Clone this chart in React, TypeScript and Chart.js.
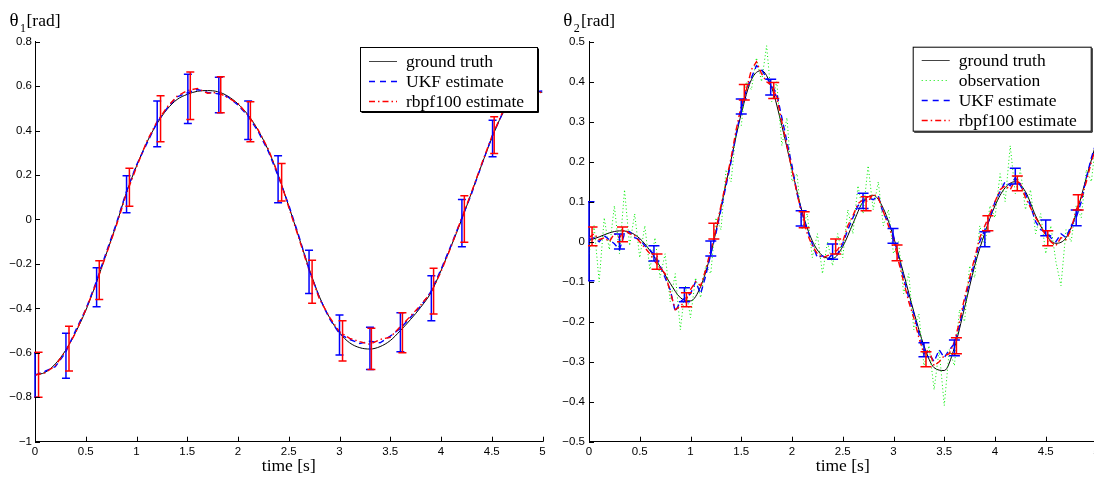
import React, { useEffect, useRef } from 'react';
import { Chart, registerables } from 'chart.js';

Chart.register(...registerables);

// ---------- sample times ----------
const t10: number[] = Array.from({ length: 51 }, (_, i) => Math.round(i * 10) / 100);
const t05: number[] = Array.from({ length: 101 }, (_, i) => Math.round(i * 5) / 100);

// ---------- left panel: theta1 ----------
const theta1Truth = [
  -0.700, -0.688, -0.650, -0.590, -0.508, -0.410, -0.290, -0.158, -0.025, 0.120,
  0.240, 0.345, 0.430, 0.495, 0.540, 0.563, 0.577, 0.580, 0.575, 0.555,
  0.520, 0.470, 0.400, 0.310, 0.195, 0.060, -0.080, -0.220, -0.345, -0.440,
  -0.510, -0.555, -0.577, -0.583, -0.572, -0.545, -0.500, -0.450, -0.395, -0.330,
  -0.230, -0.120, -0.005, 0.120, 0.245, 0.365, 0.470, 0.535, 0.565, 0.578, 0.572,
];
const theta1Ukf = [
  -0.700, -0.683, -0.662, -0.600, -0.500, -0.405, -0.285, -0.150, -0.020, 0.125,
  0.245, 0.340, 0.435, 0.500, 0.552, 0.570, 0.585, 0.572, 0.566, 0.552,
  0.515, 0.465, 0.395, 0.305, 0.190, 0.065, -0.075, -0.225, -0.350, -0.445,
  -0.515, -0.540, -0.558, -0.548, -0.555, -0.525, -0.490, -0.440, -0.390, -0.325,
  -0.225, -0.115, 0.000, 0.115, 0.245, 0.370, 0.472, 0.538, 0.566, 0.575, 0.578,
];
const theta1Rbpf = [
  -0.700, -0.690, -0.658, -0.592, -0.510, -0.405, -0.292, -0.160, -0.030, 0.115,
  0.235, 0.350, 0.438, 0.505, 0.555, 0.580, 0.590, 0.568, 0.572, 0.548,
  0.522, 0.468, 0.402, 0.315, 0.198, 0.055, -0.085, -0.228, -0.355, -0.438,
  -0.505, -0.535, -0.550, -0.562, -0.540, -0.530, -0.482, -0.435, -0.385, -0.330,
  -0.235, -0.122, 0.002, 0.122, 0.250, 0.372, 0.476, 0.540, 0.570, 0.580, 0.570,
];
const theta1UkfBarT = [0.0, 0.305, 0.607, 0.902, 1.204, 1.506, 1.811, 2.1, 2.395, 2.7, 3.0, 3.3, 3.6, 3.905, 4.206, 4.508, 4.797];
const theta1UkfBarLo = [-0.80, -0.715, -0.393, 0.03, 0.327, 0.432, 0.48, 0.36, 0.075, -0.333, -0.61, -0.675, -0.595, -0.456, -0.123, 0.282, 0.489];
const theta1UkfBarHi = [-0.60, -0.512, -0.217, 0.197, 0.533, 0.653, 0.64, 0.533, 0.287, -0.138, -0.43, -0.485, -0.42, -0.253, 0.09, 0.447, 0.67];
const theta1RbpfBarT = [0.035, 0.335, 0.633, 0.93, 1.237, 1.53, 1.83, 2.122, 2.43, 2.73, 3.03, 3.314, 3.62, 3.927, 4.23, 4.524, 4.83];
const theta1RbpfBarLo = [-0.80, -0.682, -0.36, 0.06, 0.35, 0.45, 0.48, 0.35, 0.083, -0.377, -0.637, -0.675, -0.60, -0.425, -0.103, 0.297, 0.51];
const theta1RbpfBarHi = [-0.598, -0.48, -0.186, 0.23, 0.557, 0.664, 0.642, 0.53, 0.252, -0.183, -0.456, -0.49, -0.42, -0.22, 0.107, 0.462, 0.70];

// ---------- right panel: theta2 ----------
const theta2Truth = [
  0.003, 0.012, 0.022, 0.027, 0.024, 0.008, -0.022, -0.062, -0.104, -0.140,
  -0.148, -0.112, -0.030, 0.085, 0.205, 0.320, 0.405, 0.428, 0.385, 0.290,
  0.180, 0.075, 0.002, -0.035, -0.042, -0.012, 0.045, 0.100, 0.116, 0.083,
  0.012, -0.080, -0.175, -0.260, -0.315, -0.322, -0.265, -0.165, -0.060, 0.022,
  0.090, 0.135, 0.150, 0.125, 0.065, 0.018, -0.004, 0.010, 0.070, 0.160, 0.250,
];
const theta2Obs = [
  -0.03, 0.04, -0.10, 0.06, -0.02, 0.09, -0.03, 0.13, -0.01, 0.07,
  -0.04, 0.04, -0.07, 0.01, -0.09, -0.03, -0.15, -0.08, -0.22, -0.11,
  -0.19, -0.09, -0.14, -0.06, -0.08, 0.06, 0.03, 0.18, 0.15, 0.28,
  0.29, 0.40, 0.38, 0.46, 0.40, 0.49, 0.35, 0.40, 0.24, 0.31,
  0.15, 0.17, 0.03, 0.07, -0.04, 0.02, -0.08, 0.00, -0.06, 0.02,
  -0.04, 0.08, 0.02, 0.14, 0.07, 0.19, 0.08, 0.15, 0.04, 0.08,
  -0.03, 0.00, -0.13, -0.08, -0.22, -0.18, -0.31, -0.26, -0.37, -0.27,
  -0.41, -0.27, -0.31, -0.17, -0.20, -0.06, -0.09, 0.04, -0.01, 0.09,
  0.06, 0.17, 0.10, 0.24, 0.12, 0.18, 0.08, 0.13, 0.02, 0.07,
  -0.03, 0.04, -0.05, -0.11, 0.03, 0.00, 0.09, 0.06, 0.18, 0.15, 0.27,
];
const theta2Ukf = [
  0.005, 0.010, 0.000, 0.015, 0.005, -0.005, -0.020, 0.020, 0.025, 0.010,
  0.005, -0.010, -0.020, -0.035, -0.060, -0.090, -0.120, -0.175, -0.150, -0.140,
  -0.130, -0.100, -0.130, -0.085, -0.030, 0.020, 0.080, 0.140, 0.200, 0.270,
  0.330, 0.380, 0.410, 0.440, 0.430, 0.410, 0.390, 0.370, 0.310, 0.250,
  0.190, 0.120, 0.070, 0.030, -0.005, -0.040, -0.035, -0.045, -0.030, -0.030,
  -0.005, 0.030, 0.060, 0.090, 0.100, 0.110, 0.105, 0.115, 0.070, 0.050,
  0.015, -0.040, -0.090, -0.140, -0.180, -0.230, -0.270, -0.280, -0.300, -0.270,
  -0.290, -0.270, -0.255, -0.210, -0.150, -0.100, -0.050, 0.000, 0.030, 0.060,
  0.100, 0.125, 0.150, 0.140, 0.160, 0.140, 0.120, 0.090, 0.050, 0.030,
  0.025, 0.010, 0.000, 0.020, 0.010, 0.040, 0.060, 0.100, 0.160, 0.210, 0.250,
];
const theta2Rbpf = [
  0.010, 0.020, 0.005, 0.010, 0.000, 0.020, 0.010, 0.030, 0.020, 0.015,
  0.000, -0.015, -0.030, -0.050, -0.065, -0.080, -0.125, -0.170, -0.160, -0.150,
  -0.120, -0.100, -0.110, -0.070, -0.020, 0.030, 0.090, 0.150, 0.210, 0.280,
  0.340, 0.380, 0.430, 0.450, 0.420, 0.400, 0.390, 0.360, 0.300, 0.240,
  0.180, 0.120, 0.065, 0.020, -0.010, -0.030, -0.040, -0.035, -0.030, -0.020,
  0.000, 0.040, 0.065, 0.095, 0.105, 0.100, 0.120, 0.110, 0.075, 0.040,
  0.005, -0.050, -0.100, -0.150, -0.190, -0.240, -0.280, -0.270, -0.310, -0.300,
  -0.285, -0.280, -0.250, -0.200, -0.140, -0.090, -0.040, 0.010, 0.040, 0.070,
  0.100, 0.130, 0.140, 0.130, 0.155, 0.145, 0.110, 0.085, 0.060, 0.040,
  0.015, 0.000, -0.010, 0.010, 0.005, 0.030, 0.080, 0.110, 0.150, 0.200, 0.240,
];
const theta2UkfBarT = [0.0, 0.30, 0.64, 0.94, 1.20, 1.50, 1.79, 2.09, 2.40, 2.70, 2.995, 3.30, 3.60, 3.90, 4.20, 4.50, 4.80];
const theta2UkfBarLo = [-0.0975, -0.018, -0.048, -0.15, -0.036, 0.319, 0.367, 0.039, -0.044, 0.083, -0.004, -0.2875, -0.285, -0.0125, 0.144, 0.015, 0.04];
const theta2UkfBarHi = [0.10, 0.019, -0.01, -0.115, 0.002, 0.357, 0.406, 0.0775, -0.006, 0.121, 0.033, -0.2525, -0.246, 0.025, 0.1835, 0.054, 0.079];
const theta2RbpfBarT = [0.03, 0.33, 0.67, 0.96, 1.23, 1.53, 1.82, 2.12, 2.43, 2.73, 3.035, 3.32, 3.62, 3.93, 4.22, 4.52, 4.82];
const theta2RbpfBarLo = [-0.01, 0.0, -0.069, -0.1625, 0.007, 0.354, 0.358, 0.035, -0.031, 0.0775, -0.0475, -0.3125, -0.28, 0.0275, 0.1275, -0.01, 0.079];
const theta2RbpfBarHi = [0.037, 0.037, -0.031, -0.1275, 0.046, 0.393, 0.398, 0.075, 0.007, 0.1125, -0.008, -0.275, -0.24, 0.065, 0.164, 0.0275, 0.1175];

// ---------- text ----------
const xTitle = 'time [s]';
const legendLabelsLeft = ['ground truth', 'UKF estimate', 'rbpf100 estimate'];
const legendLabelsRight = ['ground truth', 'observation', 'UKF estimate', 'rbpf100 estimate'];

const SANS = '"Liberation Sans", Arial, Helvetica, sans-serif';
const SERIF = '"Liberation Serif", "Times New Roman", serif';

const BLUE = 'rgb(0,0,255)';
const RED = 'rgb(255,0,0)';
const GREEN = 'rgb(0,235,0)';
const UKF_DASH = [6, 4];
const RBPF_DASH = [6, 3, 1.5, 3];

const pts = (ts: number[], vs: number[]) => ts.map((t, i) => ({ x: t, y: vs[i] }));

const fmt = (v: any) => {
  const n = Number(v);
  if (Math.abs(n) < 1e-9) return '0';
  const s = String(Math.round(n * 10) / 10);
  return s.replace('-', '\u2212');
};

type BarSet = { t: number[]; lo: number[]; hi: number[]; color: string; cap: number };
type LegendItem = { label: string; color: string; dash: number[]; width: number };

function makeErrorBars(sets: BarSet[]) {
  return {
    id: 'errorBars',
    afterDatasetsDraw(chart: any) {
      const { ctx, chartArea } = chart;
      const xs = chart.scales.x;
      const ys = chart.scales.y;
      ctx.save();
      ctx.beginPath();
      ctx.rect(chartArea.left - 1, chartArea.top - 10, chartArea.right - chartArea.left + 20, chartArea.bottom - chartArea.top + 10);
      ctx.clip();
      sets.forEach((s) => {
        ctx.strokeStyle = s.color;
        ctx.lineWidth = 1.5;
        ctx.setLineDash([]);
        ctx.beginPath();
        s.t.forEach((t, i) => {
          const px = xs.getPixelForValue(t);
          const p1 = ys.getPixelForValue(s.lo[i]);
          const p2 = ys.getPixelForValue(s.hi[i]);
          ctx.moveTo(px, p1);
          ctx.lineTo(px, p2);
          ctx.moveTo(px - s.cap, p1);
          ctx.lineTo(px + s.cap, p1);
          ctx.moveTo(px - s.cap, p2);
          ctx.lineTo(px + s.cap, p2);
        });
        ctx.stroke();
      });
      ctx.restore();
    },
  };
}

function makeOverlay(o: {
  sub: string;
  titleX: number[];
  box: { x: number; y: number; w: number; h: number };
  items: LegendItem[];
}) {
  return {
    id: 'overlay',
    afterDraw(chart: any) {
      const { ctx, chartArea } = chart;
      const xs = chart.scales.x;
      const ys = chart.scales.y;
      ctx.save();
      // inward tick marks
      ctx.strokeStyle = '#000';
      ctx.lineWidth = 1;
      ctx.setLineDash([]);
      ctx.beginPath();
      xs.ticks.forEach((tk: any) => {
        const px = Math.round(xs.getPixelForValue(tk.value)) + 0.5;
        ctx.moveTo(px, chartArea.bottom);
        ctx.lineTo(px, chartArea.bottom - 5);
      });
      ys.ticks.forEach((tk: any) => {
        const py = Math.round(ys.getPixelForValue(tk.value)) + 0.5;
        ctx.moveTo(chartArea.left, py);
        ctx.lineTo(chartArea.left + 5, py);
      });
      ctx.stroke();

      // y label at the top
      ctx.fillStyle = '#000';
      ctx.textBaseline = 'alphabetic';
      ctx.textAlign = 'left';
      ctx.font = `19px ${SERIF}`;
      ctx.fillText('\u03b8', o.titleX[0], 26);
      ctx.font = `12px ${SERIF}`;
      ctx.fillText(o.sub, o.titleX[1], 32);
      ctx.font = `17.5px ${SERIF}`;
      ctx.fillText('[rad]', o.titleX[2], 26);

      // legend
      const { x, y, w, h } = o.box;
      ctx.fillStyle = '#fff';
      ctx.fillRect(x, y, w, h);
      ctx.strokeStyle = '#000';
      ctx.lineWidth = 1;
      ctx.strokeRect(x + 0.5, y + 0.5, w, h);
      ctx.beginPath();
      ctx.moveTo(x + 1.5, y + h + 1.5);
      ctx.lineTo(x + w + 1.5, y + h + 1.5);
      ctx.lineTo(x + w + 1.5, y + 1.5);
      ctx.stroke();
      o.items.forEach((it, i) => {
        const cy = Math.round(y + 13.5 + 20 * i) + 0.5;
        ctx.save();
        ctx.strokeStyle = it.color;
        ctx.lineWidth = it.width;
        ctx.setLineDash(it.dash);
        ctx.beginPath();
        ctx.moveTo(x + 9, cy);
        ctx.lineTo(x + 37, cy);
        ctx.stroke();
        ctx.restore();
        ctx.fillStyle = '#000';
        ctx.font = `17.5px ${SERIF}`;
        ctx.fillText(it.label, x + 46, cy + 5);
      });
      ctx.restore();
    },
  };
}

function makeScales(yMin: number, yMax: number, yStep: number, yWidth: number, yPad: number) {
  return {
    x: {
      type: 'linear',
      min: 0,
      max: 5,
      grid: { display: true, drawOnChartArea: false, drawTicks: false },
      border: { display: true, color: '#000', width: 1 },
      ticks: {
        stepSize: 0.5,
        autoSkip: false,
        maxRotation: 0,
        minRotation: 0,
        padding: 3,
        color: '#000',
        font: { family: SANS, size: 11.5 },
        callback: fmt,
      },
      title: {
        display: true,
        text: xTitle,
        color: '#000',
        padding: { top: 0, bottom: 0 },
        font: { family: SERIF, size: 17.5 },
      },
      afterFit: (s: any) => {
        s.height = 35.3;
      },
    },
    y: {
      type: 'linear',
      min: yMin,
      max: yMax,
      grid: { display: true, drawOnChartArea: false, drawTicks: false },
      border: { display: true, color: '#000', width: 1 },
      ticks: {
        stepSize: yStep,
        autoSkip: false,
        padding: yPad,
        color: '#000',
        font: { family: SANS, size: 11.5 },
        callback: fmt,
      },
      afterFit: (s: any) => {
        s.width = yWidth;
      },
    },
  };
}

const lineDs = (label: string, data: any[], color: string, dash: number[], width: number, smooth: boolean) => ({
  label,
  data,
  borderColor: color,
  backgroundColor: color,
  borderWidth: width,
  borderDash: dash,
  pointRadius: 0,
  fill: false,
  tension: 0,
  cubicInterpolationMode: smooth ? 'monotone' : 'default',
});

export default function App() {
  const leftRef = useRef<HTMLCanvasElement | null>(null);
  const rightRef = useRef<HTMLCanvasElement | null>(null);

  useEffect(() => {
    const charts: Chart[] = [];
    if (leftRef.current) {
      charts.push(
        new Chart(leftRef.current, {
          type: 'line',
          data: {
            datasets: [
              lineDs('rbpf100 estimate', pts(t10, theta1Rbpf), RED, RBPF_DASH, 1.4, false),
              lineDs('UKF estimate', pts(t10, theta1Ukf), BLUE, UKF_DASH, 1.4, false),
              lineDs('ground truth', pts(t10, theta1Truth), '#000', [], 1, true),
            ] as any,
          },
          options: {
            responsive: false,
            maintainAspectRatio: false,
            animation: false,
            events: [],
            layout: { padding: { top: 41.7, right: 7.5, bottom: 0, left: 0 } },
            plugins: { legend: { display: false }, tooltip: { enabled: false }, title: { display: false } },
            scales: makeScales(-1, 0.8, 0.2, 35, 3) as any,
          },
          plugins: [
            makeErrorBars([
              { t: theta1UkfBarT, lo: theta1UkfBarLo, hi: theta1UkfBarHi, color: BLUE, cap: 4 },
              { t: theta1RbpfBarT, lo: theta1RbpfBarLo, hi: theta1RbpfBarHi, color: RED, cap: 4 },
            ]),
            makeOverlay({
              sub: '1',
              titleX: [9.5, 20, 26.5],
              box: { x: 360, y: 47, w: 177, h: 64 },
              items: [
                { label: legendLabelsLeft[0], color: '#444', dash: [], width: 1 },
                { label: legendLabelsLeft[1], color: BLUE, dash: [6, 5], width: 1.4 },
                { label: legendLabelsLeft[2], color: RED, dash: RBPF_DASH, width: 1.4 },
              ],
            }),
          ],
        } as any)
      );
    }
    if (rightRef.current) {
      charts.push(
        new Chart(rightRef.current, {
          type: 'line',
          data: {
            datasets: [
              lineDs('rbpf100 estimate', pts(t05, theta2Rbpf), RED, RBPF_DASH, 1.4, false),
              lineDs('UKF estimate', pts(t05, theta2Ukf), BLUE, UKF_DASH, 1.4, false),
              lineDs('observation', pts(t05, theta2Obs), GREEN, [1, 2.5], 1, false),
              lineDs('ground truth', pts(t10, theta2Truth), '#000', [], 1, true),
            ] as any,
          },
          options: {
            responsive: false,
            maintainAspectRatio: false,
            animation: false,
            events: [],
            layout: { padding: { top: 41.7, right: 7.5, bottom: 0, left: 0 } },
            plugins: { legend: { display: false }, tooltip: { enabled: false }, title: { display: false } },
            scales: makeScales(-0.5, 0.5, 0.1, 41, 4) as any,
          },
          plugins: [
            makeErrorBars([
              { t: theta2UkfBarT, lo: theta2UkfBarLo, hi: theta2UkfBarHi, color: BLUE, cap: 5.5 },
              { t: theta2RbpfBarT, lo: theta2RbpfBarLo, hi: theta2RbpfBarHi, color: RED, cap: 5.5 },
            ]),
            makeOverlay({
              sub: '2',
              titleX: [15.3, 25.8, 33],
              box: { x: 364.7, y: 46.7, w: 178, h: 84 },
              items: [
                { label: legendLabelsRight[0], color: '#444', dash: [], width: 1 },
                { label: legendLabelsRight[1], color: GREEN, dash: [1, 3], width: 1 },
                { label: legendLabelsRight[2], color: BLUE, dash: [6, 5], width: 1.4 },
                { label: legendLabelsRight[3], color: RED, dash: RBPF_DASH, width: 1.4 },
              ],
            }),
          ],
        } as any)
      );
    }
    return () => {
      charts.forEach((c) => c.destroy());
    };
  }, []);

  return (
    <div
      style={{
        position: 'fixed',
        left: 0,
        top: 0,
        width: 1094,
        height: 477,
        overflow: 'hidden',
        background: '#fff',
      }}
    >
      <canvas
        ref={leftRef}
        width={550}
        height={477}
        style={{ position: 'absolute', left: 0, top: 0, width: 550, height: 477 }}
      />
      <canvas
        ref={rightRef}
        width={556}
        height={477}
        style={{ position: 'absolute', left: 548, top: 0, width: 556, height: 477 }}
      />
    </div>
  );
}
